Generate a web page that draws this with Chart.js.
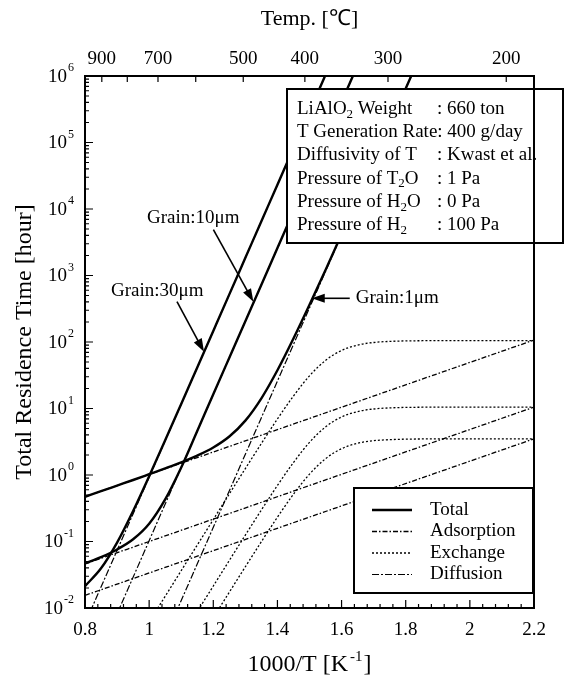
<!DOCTYPE html>
<html>
<head>
<meta charset="utf-8">
<script src="https://cdn.jsdelivr.net/npm/chart.js@4.4.0/dist/chart.umd.min.js"></script>
<style>
html, body { margin: 0; padding: 0; background: #fff; }
</style>
</head>
<body>
<canvas id="myChart" width="568" height="687"></canvas>
<script>
// ---- data (1000/T on x, hours on y) ----
const xAds = [0.8, 2.2];
const ads1 = [0.47, 107];
const ads10 = [0.046, 10.5];
const ads30 = [0.0155, 3.5];

const xDiff30 = [0.8, 1.6];
const diff30 = [0.00583, 3.68e6];
const xDiff10 = [0.8, 1.7];
const diff10 = [0.00065, 5.15e6];
const xDiff1 = [1.0, 1.9];
const diff1 = [0.00103, 8.17e6];

const xExch = [1.0, 1.05, 1.1, 1.15, 1.2, 1.25, 1.3, 1.35, 1.4, 1.45, 1.5, 1.55, 1.6, 1.65, 1.7, 1.75, 1.8, 1.9, 2.0, 2.1, 2.2];
const exch1 = [0.0062, 0.015, 0.0365, 0.0884, 0.214, 0.519, 1.25, 2.98, 6.96, 15.4, 31.0, 52.9, 74.7, 90.0, 98.3, 102.1, 103.8, 104.8, 105, 105, 105];
const exch10 = [0.00062, 0.0015, 0.00365, 0.00884, 0.0214, 0.0519, 0.125, 0.298, 0.696, 1.54, 3.10, 5.29, 7.47, 9.00, 9.83, 10.21, 10.38, 10.48, 10.5, 10.5, 10.5];
const exch30 = [0.00021, 0.0005, 0.00122, 0.00295, 0.00715, 0.0173, 0.0417, 0.0994, 0.232, 0.514, 1.03, 1.76, 2.49, 3.00, 3.28, 3.40, 3.46, 3.49, 3.5, 3.5, 3.5];

const xTot = [0.8, 0.85, 0.9, 0.95, 1.0, 1.05, 1.1, 1.15, 1.2, 1.25, 1.3, 1.35, 1.4, 1.45, 1.5, 1.55, 1.6, 1.65, 1.7, 1.75, 1.8, 1.85, 1.9];
const tot1 = [0.47, 0.571, 0.693, 0.841, 1.028, 1.258, 1.553, 1.96, 2.594, 3.789, 6.567, 14.22, 37.58, 112.8, 363, 1214, 4175, 14600, 51610, 182900, 648100, 2.3e6, 8.17e6];
const tot10 = [0.0467, 0.0582, 0.076, 0.108, 0.185, 0.43, 1.3, 4.6, 16.4, 58.1, 205.4, 727.7, 2582, 9158, 32490, 115300, 409000, 1.45e6, 5.15e6, null, null, null, null];
const tot30 = [0.0213, 0.0395, 0.0964, 0.288, 0.959, 3.32, 11.69, 41.4, 146.7, 520, 1845, 6546, 23230, 82400, 292400, 1.04e6, 3.68e6, null, null, null, null, null, null];

// axis ticks
const xMin = 0.8, xMax = 2.2;
const decades = [-2, -1, 0, 1, 2, 3, 4, 5, 6];
const tempTicks = [900, 800, 700, 600, 500, 400, 300, 200];
const tempLabels = [900, 700, 500, 400, 300, 200];

const SERIF = '"Liberation Serif", "Times New Roman", serif';

function pts(xs, ys) {
    return xs.map((x, i) => ({x: x, y: ys[i]})).filter(p => p.y != null);
}

const DASH_ADS = [5, 2, 1.5, 2];
const DASH_EXCH = [2, 2];
const DASH_DIFF = [7, 2, 2, 2];

function line(data, dash, width) {
    return {
        data: data,
        showLine: true,
        borderColor: '#000',
        borderWidth: width,
        borderDash: dash,
        pointRadius: 0,
        fill: false,
        cubicInterpolationMode: 'monotone'
    };
}

const datasets = [
    line(pts(xAds, ads1), DASH_ADS, 1.3),
    line(pts(xAds, ads10), DASH_ADS, 1.3),
    line(pts(xAds, ads30), DASH_ADS, 1.3),
    line(pts(xExch, exch1), DASH_EXCH, 1.3),
    line(pts(xExch, exch10), DASH_EXCH, 1.3),
    line(pts(xExch, exch30), DASH_EXCH, 1.3),
    line(pts(xDiff30, diff30), DASH_DIFF, 1.2),
    line(pts(xDiff10, diff10), DASH_DIFF, 1.2),
    line(pts(xDiff1, diff1), DASH_DIFF, 1.2),
    line(pts(xTot, tot1), [], 2.4),
    line(pts(xTot, tot10), [], 2.4),
    line(pts(xTot, tot30), [], 2.4)
];

// text with sub/superscripts: parts = [[text, 'n'|'sub'|'sup'], ...]
function richText(ctx, parts, x, y, size) {
    let cx = x;
    parts.forEach(p => {
        const small = p[1] !== 'n';
        ctx.font = (small ? Math.round(size * 0.7) : size) + 'px ' + SERIF;
        let dy = 0;
        if (p[1] === 'sub') dy = size * 0.28;
        if (p[1] === 'sup') dy = -size * 0.38;
        ctx.fillText(p[0], cx, y + dy);
        cx += ctx.measureText(p[0]).width;
    });
    return cx;
}

function arrow(ctx, x0, y0, x1, y1) {
    const ang = Math.atan2(y1 - y0, x1 - x0);
    const hl = 13, hw = 4.5;
    ctx.beginPath();
    ctx.moveTo(x0, y0);
    ctx.lineTo(x1 - Math.cos(ang) * hl * 0.8, y1 - Math.sin(ang) * hl * 0.8);
    ctx.lineWidth = 1.6;
    ctx.setLineDash([]);
    ctx.stroke();
    ctx.beginPath();
    ctx.moveTo(x1, y1);
    ctx.lineTo(x1 - Math.cos(ang) * hl - Math.sin(ang) * hw, y1 - Math.sin(ang) * hl + Math.cos(ang) * hw);
    ctx.lineTo(x1 - Math.cos(ang) * hl + Math.sin(ang) * hw, y1 - Math.sin(ang) * hl - Math.cos(ang) * hw);
    ctx.closePath();
    ctx.fill();
}

const decor = {
    id: 'decor',
    afterDatasetsDraw(chart) {
        const ctx = chart.ctx;
        const a = chart.chartArea;
        const sx = chart.scales.x, sy = chart.scales.y, st = chart.scales.xTop;
        ctx.save();
        ctx.fillStyle = '#000';
        ctx.strokeStyle = '#000';
        ctx.setLineDash([]);

        // arrows + grain labels (anchored on the curves)
        const tip30 = {x: sx.getPixelForValue(1.171), y: sy.getPixelForValue(71.5)};
        const tip10 = {x: sx.getPixelForValue(1.325), y: sy.getPixelForValue(404)};
        const tip1 = {x: sx.getPixelForValue(1.507), y: sy.getPixelForValue(454)};
        arrow(ctx, tip30.x - 27, tip30.y - 50, tip30.x, tip30.y);
        arrow(ctx, tip10.x - 40, tip10.y - 72, tip10.x, tip10.y);
        arrow(ctx, tip1.x + 38, tip1.y, tip1.x, tip1.y);
        ctx.textBaseline = 'middle';
        ctx.textAlign = 'left';
        ctx.font = '19px ' + SERIF;
        ctx.fillText('Grain:30μm', 111, tip30.y - 61);
        ctx.fillText('Grain:10μm', 147, tip10.y - 84);
        ctx.fillText('Grain:1μm', tip1.x + 44, tip1.y);

        // info box
        const bx = 287, by = 89, bw = 276, bh = 154;
        ctx.fillStyle = '#fff';
        ctx.fillRect(bx, by, bw, bh);
        ctx.lineWidth = 2;
        ctx.strokeRect(bx, by, bw, bh);
        ctx.fillStyle = '#000';
        const rows = [
            [[['LiAlO', 'n'], ['2', 'sub'], [' Weight', 'n']], ': 660 ton'],
            [[['T Generation Rate: 400 g/day', 'n']], null],
            [[['Diffusivity of T', 'n']], ': Kwast et al.'],
            [[['Pressure of T', 'n'], ['2', 'sub'], ['O', 'n']], ': 1 Pa'],
            [[['Pressure of H', 'n'], ['2', 'sub'], ['O', 'n']], ': 0 Pa'],
            [[['Pressure of H', 'n'], ['2', 'sub']], ': 100 Pa']
        ];
        rows.forEach((r, i) => {
            const ty = 109 + i * 23.2;
            richText(ctx, r[0], 297, ty, 19);
            if (r[1]) {
                ctx.font = '19px ' + SERIF;
                ctx.fillText(r[1], 437, ty);
            }
        });

        // legend box
        const lx = 354, ly = 488, lw = 179, lh = 105;
        ctx.fillStyle = '#fff';
        ctx.fillRect(lx, ly, lw, lh);
        ctx.lineWidth = 2;
        ctx.strokeRect(lx, ly, lw, lh);
        ctx.fillStyle = '#000';
        const leg = [['Total', [], 2.4], ['Adsorption', DASH_ADS, 1.3], ['Exchange', DASH_EXCH, 1.3], ['Diffusion', DASH_DIFF, 1.2]];
        leg.forEach((g, i) => {
            const ty = 510 + i * 21.5;
            ctx.beginPath();
            ctx.setLineDash(g[1]);
            ctx.lineWidth = g[2];
            ctx.moveTo(372, ty);
            ctx.lineTo(412, ty);
            ctx.stroke();
            ctx.setLineDash([]);
            ctx.font = '19px ' + SERIF;
            ctx.fillText(g[0], 430, ty);
        });

        // frame
        ctx.lineWidth = 2;
        ctx.strokeRect(a.left, a.top, a.right - a.left, a.bottom - a.top);

        // bottom ticks (inward)
        ctx.lineWidth = 1.2;
        ctx.beginPath();
        for (let i = 0; i <= 35; i++) {
            const v = xMin + i * 0.04;
            const px = sx.getPixelForValue(v);
            const len = (i % 5 === 0) ? 8 : 4;
            ctx.moveTo(px, a.bottom);
            ctx.lineTo(px, a.bottom - len);
        }
        // top temperature ticks
        st.ticks.forEach(t => {
            const px = st.getPixelForValue(t.value);
            ctx.moveTo(px, a.top);
            ctx.lineTo(px, a.top + 6);
        });
        // left log ticks
        decades.forEach(e => {
            const py = sy.getPixelForValue(Math.pow(10, e));
            ctx.moveTo(a.left, py);
            ctx.lineTo(a.left + 8, py);
            if (e < 6) {
                for (let m = 2; m <= 9; m++) {
                    const pm = sy.getPixelForValue(m * Math.pow(10, e));
                    ctx.moveTo(a.left, pm);
                    ctx.lineTo(a.left + 4, pm);
                }
            }
        });
        ctx.stroke();

        // y tick labels 10^n
        ctx.textAlign = 'right';
        ctx.textBaseline = 'middle';
        decades.forEach(e => {
            const py = sy.getPixelForValue(Math.pow(10, e));
            const es = e < 0 ? '-' + (-e) : String(e);
            ctx.font = '12px ' + SERIF;
            ctx.fillText(es, 74, py - 8);
            const w = ctx.measureText(es).width;
            ctx.font = '19px ' + SERIF;
            ctx.fillText('10', 73 - w, py + 1);
        });

        // axis titles
        ctx.textAlign = 'left';
        ctx.textBaseline = 'middle';
        ctx.font = '24px ' + SERIF;
        const p1 = '1000/T [K';
        const w1 = ctx.measureText(p1).width;
        ctx.font = '15px ' + SERIF;
        const w2 = ctx.measureText('-1').width;
        ctx.font = '24px ' + SERIF;
        const w3 = ctx.measureText(']').width;
        const cx = (a.left + a.right) / 2;
        let tx = cx - (w1 + w2 + 3 + w3) / 2;
        ctx.fillText(p1, tx, 665);
        ctx.font = '15px ' + SERIF;
        ctx.fillText('-1', tx + w1 + 2, 657);
        ctx.font = '24px ' + SERIF;
        ctx.fillText(']', tx + w1 + w2 + 3, 665);

        ctx.textAlign = 'center';
        ctx.font = '22px ' + SERIF;
        ctx.fillText('Temp. [℃]', cx, 19);

        ctx.save();
        ctx.font = '24px ' + SERIF;
        ctx.translate(25, (a.top + a.bottom) / 2);
        ctx.rotate(-Math.PI / 2);
        ctx.fillText('Total Residence Time [hour]', 0, 0);
        ctx.restore();

        ctx.restore();
    }
};

const config = {
    type: 'scatter',
    data: {datasets: datasets},
    options: {
        responsive: false,
        animation: false,
        devicePixelRatio: 1,
        layout: {padding: {left: 0, right: 34, top: 0, bottom: 0}},
        plugins: {legend: {display: false}, tooltip: {enabled: false}},
        scales: {
            x: {
                type: 'linear',
                position: 'bottom',
                min: xMin,
                max: xMax,
                grid: {display: false, drawTicks: false},
                border: {display: false},
                ticks: {
                    stepSize: 0.2,
                    padding: 11,
                    color: '#000',
                    font: {family: SERIF, size: 19},
                    maxRotation: 0,
                    callback: v => String(Number(v.toFixed(1)))
                },
                afterFit: s => { s.height = 79; }
            },
            xTop: {
                type: 'linear',
                position: 'top',
                min: xMin,
                max: xMax,
                grid: {display: false, drawTicks: false},
                border: {display: false},
                afterBuildTicks: axis => {
                    axis.ticks = tempTicks.map(t => ({value: 1000 / (t + 273.15)}));
                },
                ticks: {
                    autoSkip: false,
                    padding: 6,
                    color: '#000',
                    font: {family: SERIF, size: 19},
                    maxRotation: 0,
                    callback: v => {
                        const t = Math.round(1000 / v - 273.15);
                        return tempLabels.includes(t) ? String(t) : '';
                    }
                },
                afterFit: s => { s.height = 76; }
            },
            y: {
                type: 'logarithmic',
                position: 'left',
                min: 0.01,
                max: 1e6,
                grid: {display: false, drawTicks: false},
                border: {display: false},
                ticks: {display: false},
                afterFit: s => { s.width = 85; }
            }
        }
    },
    plugins: [decor]
};

const myChart = new Chart(document.getElementById('myChart'), config);
</script>
</body>
</html>
